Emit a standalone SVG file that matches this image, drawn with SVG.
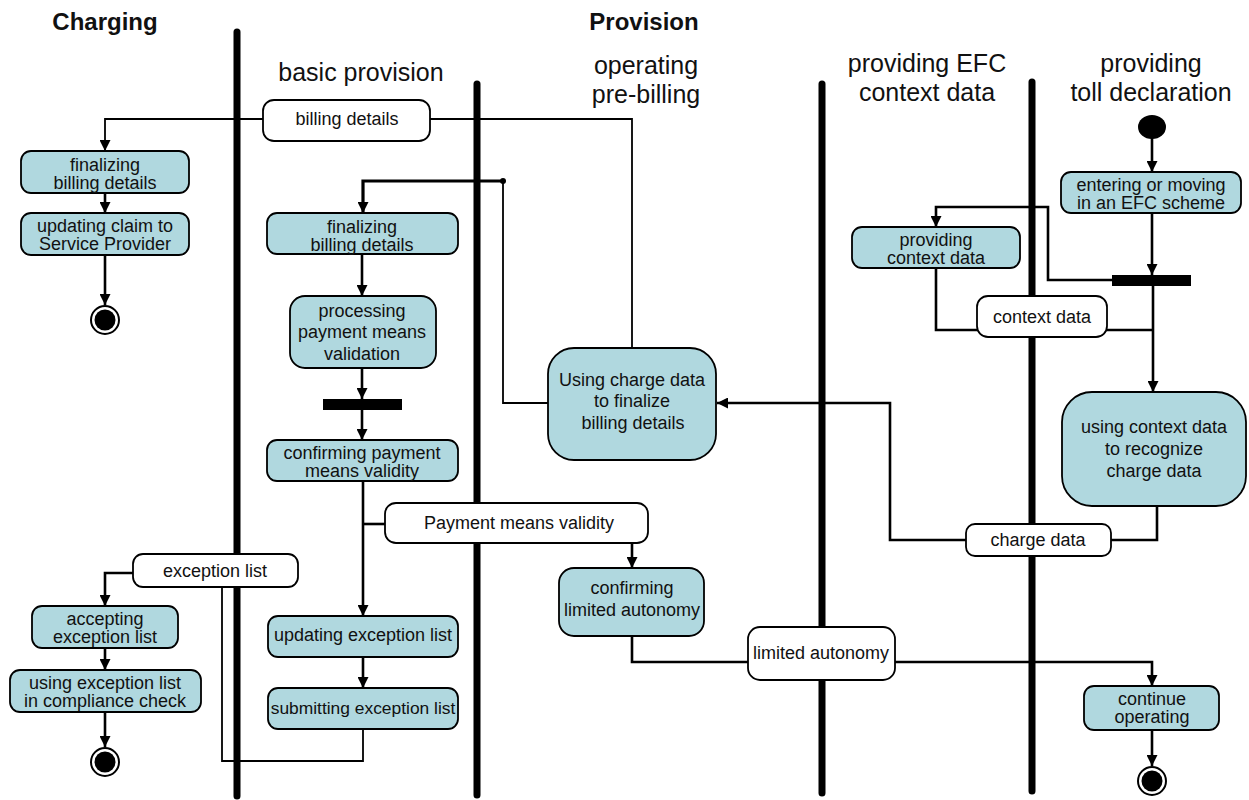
<svg xmlns="http://www.w3.org/2000/svg" width="1249" height="800" viewBox="0 0 1249 800">
  <style>
    .lane { stroke: #000; stroke-width: 7; stroke-linecap: round; }
    .act { fill: #b0d8df; stroke: #000; stroke-width: 1.8; }
    .obj { fill: #fff; stroke: #000; stroke-width: 1.8; }
    .t { font-family: "Liberation Sans", Arial, sans-serif; font-size: 18px; fill: #111; text-anchor: middle; }
    .hd { font-family: "Liberation Sans", Arial, sans-serif; font-size: 25px; fill: #111; text-anchor: middle; }
    .hb { font-family: "Liberation Sans", Arial, sans-serif; font-size: 24px; font-weight: bold; fill: #111; text-anchor: middle; }
    .flow { fill: none; stroke: #000; stroke-width: 2.6; }
    .oflow { fill: none; stroke: #000; stroke-width: 1.8; }
    .bar { fill: #000; }
  </style>
  <defs>
    <marker id="arr" viewBox="0 0 11 11" refX="11" refY="5.5" markerWidth="11" markerHeight="11" markerUnits="userSpaceOnUse" orient="auto">
      <path d="M0,0 L11,5.5 L0,11 z" fill="#000"/>
    </marker>
  </defs>

  <!-- headings -->
  <g id="headings">
    <text class="hb" x="105" y="30">Charging</text>
    <text class="hb" x="644" y="30">Provision</text>
    <text class="hd" x="361" y="81">basic provision</text>
    <text class="hd" x="646" y="74">operating</text>
    <text class="hd" x="646" y="103">pre-billing</text>
    <text class="hd" x="927" y="72">providing EFC</text>
    <text class="hd" x="927" y="101">context data</text>
    <text class="hd" x="1151" y="72">providing</text>
    <text class="hd" x="1151" y="101">toll declaration</text>
  </g>

  <!-- swimlane separators -->
  <g id="lanes">
    <line class="lane" x1="237" y1="32" x2="237" y2="796"/>
    <line class="lane" x1="477" y1="84" x2="477" y2="795"/>
    <line class="lane" x1="822" y1="84" x2="822" y2="793"/>
    <line class="lane" x1="1032" y1="82" x2="1032" y2="791"/>
  </g>

  <!-- connectors -->
  <g id="connectors">
    <path class="oflow" d="M263,119 H105 V151" marker-end="url(#arr)"/>
    <path class="oflow" d="M430,119 H632 V348"/>
    <path class="flow" d="M105,193 V213" marker-end="url(#arr)"/>
    <path class="flow" d="M105,255 V305" marker-end="url(#arr)"/>
    <path class="flow" d="M133,573 H105 V606" marker-end="url(#arr)"/>
    <path class="flow" d="M105,648 V670" marker-end="url(#arr)"/>
    <path class="flow" d="M105,712 V747" marker-end="url(#arr)"/>
    <path class="oflow" d="M363,729 V761 H222 V587"/>
    <path class="oflow" d="M548,403 H503 V181"/>
    <path fill="none" stroke="#000" stroke-width="3.2" d="M503,181 H363 V213" marker-end="url(#arr)"/>
    <circle cx="503" cy="181" r="3" fill="#000"/>
    <path class="flow" d="M362,254 V296" marker-end="url(#arr)"/>
    <path class="flow" d="M362,368 V399" marker-end="url(#arr)"/>
    <path class="flow" d="M362,410 V440" marker-end="url(#arr)"/>
    <path class="flow" d="M363,481 V616" marker-end="url(#arr)"/>
    <path class="flow" d="M363,524 H385"/>
    <path class="flow" d="M632,543 V568" marker-end="url(#arr)"/>
    <path class="flow" d="M363,657 V688" marker-end="url(#arr)"/>
    <path class="flow" d="M632,636 V662 H1152 V686" marker-end="url(#arr)"/>
    <path class="flow" d="M1152,138 V172" marker-end="url(#arr)"/>
    <path class="flow" d="M1152,213 V275" marker-end="url(#arr)"/>
    <path class="flow" d="M1112,280 H1048 V207 H936 V227" marker-end="url(#arr)"/>
    <path class="flow" d="M1153,286 V392" marker-end="url(#arr)"/>
    <path class="flow" d="M936,268 V330 H1153"/>
    <path class="flow" d="M1157,506 V540 H890 V403 H717" marker-end="url(#arr)"/>
    <path class="flow" d="M1152,730 V766" marker-end="url(#arr)"/>
  </g>

  <!-- Charging lane -->
  <g id="billing-details-obj">
    <rect class="obj" x="263" y="100" width="167" height="41" rx="11"/>
    <text class="t" x="347" y="125">billing details</text>
  </g>
  <g id="charging-finalizing">
    <rect class="act" x="21" y="151" width="168" height="42" rx="10"/>
    <text class="t" x="105" y="171">finalizing</text>
    <text class="t" x="105" y="189">billing details</text>
  </g>
  <g id="charging-updating-claim">
    <rect class="act" x="21" y="213" width="168" height="42" rx="10"/>
    <text class="t" x="105" y="232">updating claim to</text>
    <text class="t" x="105" y="250">Service Provider</text>
  </g>
  <g id="charging-end-1">
    <circle cx="105" cy="320" r="14" fill="#fff" stroke="#000" stroke-width="2"/>
    <circle cx="105" cy="320" r="10.5" fill="#000"/>
  </g>
  <g id="exception-list-obj">
    <rect class="obj" x="133" y="554" width="165" height="33" rx="10"/>
    <text class="t" x="215" y="577">exception list</text>
  </g>
  <g id="charging-accepting">
    <rect class="act" x="32" y="606" width="146" height="42" rx="10"/>
    <text class="t" x="105" y="625">accepting</text>
    <text class="t" x="105" y="643">exception list</text>
  </g>
  <g id="charging-compliance">
    <rect class="act" x="10" y="670" width="191" height="42" rx="10"/>
    <text class="t" x="105" y="689">using exception list</text>
    <text class="t" x="105" y="707">in compliance check</text>
  </g>
  <g id="charging-end-2">
    <circle cx="105" cy="762" r="14" fill="#fff" stroke="#000" stroke-width="2"/>
    <circle cx="105" cy="762" r="10.5" fill="#000"/>
  </g>

  <!-- basic provision lane -->
  <g id="basic-finalizing">
    <rect class="act" x="267" y="213" width="191" height="41" rx="10"/>
    <text class="t" x="362" y="233">finalizing</text>
    <text class="t" x="362" y="251">billing details</text>
  </g>
  <g id="basic-processing">
    <rect class="act" x="290" y="296" width="146" height="72" rx="15"/>
    <text class="t" x="362" y="317">processing</text>
    <text class="t" x="362" y="338">payment means</text>
    <text class="t" x="362" y="360">validation</text>
  </g>
  <g id="basic-sync">
    <rect class="bar" x="323" y="399" width="79" height="11"/>
  </g>
  <g id="basic-confirming">
    <rect class="act" x="267" y="440" width="191" height="41" rx="10"/>
    <text class="t" x="362" y="459">confirming payment</text>
    <text class="t" x="362" y="477">means validity</text>
  </g>
  <g id="validity-obj">
    <rect class="obj" x="385" y="503" width="263" height="40" rx="11"/>
    <text class="t" x="519" y="529">Payment means validity</text>
  </g>
  <g id="basic-updating-exception">
    <rect class="act" x="268" y="616" width="190" height="41" rx="10"/>
    <text class="t" x="363" y="641">updating exception list</text>
  </g>
  <g id="basic-submitting-exception">
    <rect class="act" x="268" y="688" width="190" height="41" rx="10"/>
    <text class="t" x="363" y="714" style="font-size:17.4px">submitting exception list</text>
  </g>

  <!-- operating pre-billing lane -->
  <g id="using-charge-data">
    <rect class="act" x="548" y="348" width="168" height="112" rx="26"/>
    <text class="t" x="632" y="386">Using charge data</text>
    <text class="t" x="632" y="407">to finalize</text>
    <text class="t" x="633" y="429">billing details</text>
  </g>
  <g id="confirming-autonomy">
    <rect class="act" x="559" y="568" width="145" height="68" rx="15"/>
    <text class="t" x="632" y="594">confirming</text>
    <text class="t" x="632" y="616">limited autonomy</text>
  </g>
  <g id="autonomy-obj">
    <rect class="obj" x="748" y="627" width="147" height="53" rx="12"/>
    <text class="t" x="821" y="659">limited autonomy</text>
  </g>

  <!-- EFC context data lane -->
  <g id="providing-context">
    <rect class="act" x="852" y="227" width="168" height="41" rx="10"/>
    <text class="t" x="936" y="246">providing</text>
    <text class="t" x="936" y="264">context data</text>
  </g>
  <g id="context-data-obj">
    <rect class="obj" x="977" y="296" width="130" height="41" rx="11"/>
    <text class="t" x="1042" y="323">context data</text>
  </g>
  <g id="charge-data-obj">
    <rect class="obj" x="966" y="524" width="145" height="32" rx="9"/>
    <text class="t" x="1038" y="546">charge data</text>
  </g>

  <!-- toll declaration lane -->
  <g id="toll-start">
    <ellipse cx="1152" cy="127" rx="14" ry="12" fill="#000"/>
  </g>
  <g id="entering-scheme">
    <rect class="act" x="1061" y="172" width="180" height="41" rx="10"/>
    <text class="t" x="1151" y="191">entering or moving</text>
    <text class="t" x="1151" y="209">in an EFC scheme</text>
  </g>
  <g id="toll-sync">
    <rect class="bar" x="1112" y="275" width="79" height="11"/>
  </g>
  <g id="using-context-data">
    <rect class="act" x="1062" y="392" width="184" height="114" rx="30"/>
    <text class="t" x="1154" y="433">using context data</text>
    <text class="t" x="1154" y="455">to recognize</text>
    <text class="t" x="1154" y="477">charge data</text>
  </g>
  <g id="continue-operating">
    <rect class="act" x="1084" y="686" width="135" height="44" rx="10"/>
    <text class="t" x="1152" y="705">continue</text>
    <text class="t" x="1152" y="723">operating</text>
  </g>
  <g id="toll-end">
    <circle cx="1152" cy="781" r="14" fill="#fff" stroke="#000" stroke-width="2"/>
    <circle cx="1152" cy="781" r="10.5" fill="#000"/>
  </g>
</svg>
